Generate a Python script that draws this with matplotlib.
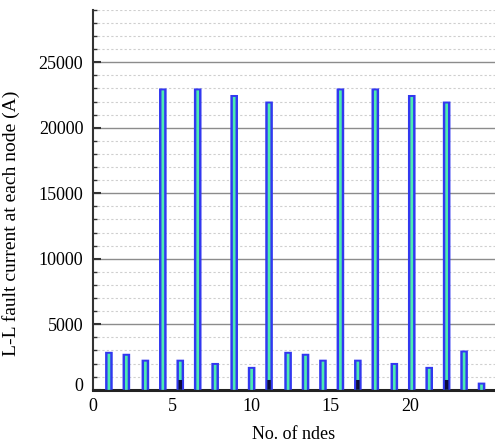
import numpy as np
import matplotlib.pyplot as plt
import matplotlib.transforms as mtransforms
from matplotlib.ticker import MultipleLocator

# node positions on the x axis and L-L fault current (A)
node_x = [1.0, 2.1, 3.3, 4.4, 5.5, 6.6, 7.7, 8.9, 10.0, 11.1, 12.3,
          13.4, 14.5, 15.6, 16.7, 17.8, 19.0, 20.1, 21.2, 22.3, 23.4, 24.5]
fault_current = [2900, 2750, 2300, 23000, 2300, 23000, 2050, 22500, 1750, 22000, 2900,
                 2750, 2300, 23000, 2300, 23000, 2050, 22500, 1750, 22000, 3000, 550]
# small dark bars at a few nodes
dark_x = [5.5, 11.1, 16.7, 22.3]
dark_current = [750, 750, 750, 750]

plt.rcParams['font.family'] = ['Liberation Serif', 'DejaVu Serif']

fig = plt.figure(figsize=(4.95, 4.46), dpi=100)
ax = fig.add_axes([0.188, 0.126, 0.812, 0.852])

# blue outer bar with a thin green stripe inside
ax.bar(node_x, fault_current, width=0.48, color='#3238f0', linewidth=0,
       snap=False, zorder=3)
ax.bar(node_x, np.array(fault_current) - 150, width=0.17, color='#4cecb0',
       linewidth=0, snap=False, zorder=4)
ax.bar(dark_x, dark_current, width=0.22, color='#0c0c38', snap=False, zorder=5)

ax.set_xlim(0, 25.35)
ax.set_ylim(0, 29000)
ax.set_xticks([0, 5, 10, 15, 20])
ax.yaxis.set_major_locator(MultipleLocator(5000))
ax.yaxis.set_minor_locator(MultipleLocator(1000))

ax.grid(axis='y', which='minor', color='#cfcfcf', linestyle=(0, (2, 2)), linewidth=0.8, zorder=0)
ax.grid(axis='y', which='major', color='#8c8c8c', linestyle='-', linewidth=1.0, zorder=0)

for side in ['top', 'right']:
    ax.spines[side].set_visible(False)
ax.spines['left'].set_linewidth(1.5)
ax.spines['left'].set_color('#333333')
ax.spines['bottom'].set_linewidth(2.2)
ax.spines['bottom'].set_color('#222222')

ax.tick_params(axis='y', which='major', direction='in', length=6, width=1.5,
               labelsize=13, pad=7, color='#333333')
ax.tick_params(axis='y', which='minor', direction='in', length=3, width=1, color='#333333')
ax.tick_params(axis='x', length=0, labelsize=13, pad=6)

# lift the "0" label a little, as in the reference
lift = mtransforms.ScaledTranslation(0, 0.05, fig.dpi_scale_trans)
for lbl in ax.get_yticklabels():
    if lbl.get_text() == '0':
        lbl.set_transform(lbl.get_transform() + lift)

ax.set_xlabel('No. of ndes', fontsize=13, labelpad=8)
ax.set_ylabel('L-L fault current at each node (A)', fontsize=14)
ax.yaxis.set_label_coords(-0.183, 0.437)

fig.savefig('out.png', dpi=100)
